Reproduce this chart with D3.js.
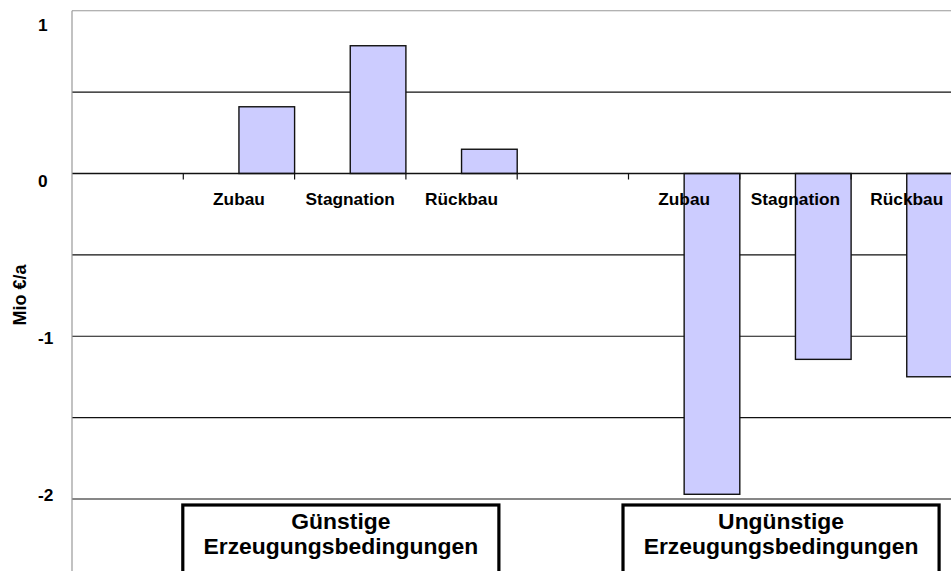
<!DOCTYPE html>
<html>
<head>
<meta charset="utf-8">
<script src="https://cdn.jsdelivr.net/npm/d3@7"></script>
<style>
  html, body { margin: 0; padding: 0; background: #fff; }
  svg { display: block; }
  text { font-family: "Liberation Sans", Arial, Helvetica, sans-serif; font-weight: bold; fill: #000; }
</style>
</head>
<body>
<svg id="chart" width="951" height="571"></svg>
<script>
// Scenario categories and the two generation-condition groups
const scenarios = ["Zubau", "Stagnation", "Rückbau"];
const groupLabels = [
  ["Günstige", "Erzeugungsbedingungen"],
  ["Ungünstige", "Erzeugungsbedingungen"]
];
// Annual result per scenario, Mio €/a
const favourable = [0.41, 0.785, 0.149];
const unfavourable = [-1.971, -1.142, -1.249];
const yTicks = [1, 0, -1, -2];
const gridValues = [0.5, -0.5, -1, -1.5, -2];
const yTitle = "Mio €/a";

const W = 951, H = 571;
const plotLeft = 72, plotTop = 10.75, plotMinY = 499, plotRightEnd = 962.4;

const svg = d3.select("#chart");
svg.append("rect").attr("width", W).attr("height", H).attr("fill", "#fff");

// Each group: one empty slot followed by the three scenarios
const series = [favourable, unfavourable];
const slots = [];
series.forEach((vals, gi) => {
  slots.push({ key: gi + "-gap", group: gi, label: "", value: null });
  scenarios.forEach((s, si) => slots.push({ key: gi + "-" + s, group: gi, label: s, value: vals[si] }));
});

const x = d3.scaleBand().domain(slots.map(d => d.key)).range([plotLeft, plotRightEnd]).padding(0);
const xInner = d3.scaleBand().domain(["spacer", "value"]).range([0, x.bandwidth()]).padding(0);
const y = d3.scaleLinear().domain([1, -2]).range([plotTop, plotMinY]);
const yLabel = d3.scaleLinear().domain([1, -2]).range([24.5, 495]);

// Gridlines
svg.append("g").selectAll("line").data(gridValues).join("line")
  .attr("x1", plotLeft).attr("x2", W)
  .attr("y1", d => y(d)).attr("y2", d => y(d))
  .attr("stroke", "#111").attr("stroke-width", 1.1);

// Top frame line
svg.append("line").attr("x1", plotLeft).attr("x2", W)
  .attr("y1", y(1)).attr("y2", y(1))
  .attr("stroke", "#999").attr("stroke-width", 1.2);

// Bars
const barSlots = slots.filter(d => d.value !== null);
svg.append("g").selectAll("rect").data(barSlots).join("rect")
  .attr("x", d => x(d.key) + xInner("value"))
  .attr("width", xInner.bandwidth())
  .attr("y", d => y(Math.max(0, d.value)))
  .attr("height", d => Math.abs(y(d.value) - y(0)))
  .attr("fill", "#ccccff")
  .attr("stroke", "#111").attr("stroke-width", 1.4);

// Zero axis with tick marks at the slot boundaries
svg.append("line").attr("x1", plotLeft).attr("x2", W)
  .attr("y1", y(0)).attr("y2", y(0))
  .attr("stroke", "#111").attr("stroke-width", 1.3);
svg.append("g").selectAll("line").data(slots.slice(1)).join("line")
  .attr("x1", d => x(d.key)).attr("x2", d => x(d.key))
  .attr("y1", y(0)).attr("y2", y(0) + 6)
  .attr("stroke", "#111").attr("stroke-width", 1.2);

// Left axis line
svg.append("line").attr("x1", plotLeft).attr("x2", plotLeft)
  .attr("y1", y(1)).attr("y2", H)
  .attr("stroke", "#999").attr("stroke-width", 1.2);

// Scenario labels
svg.append("g").selectAll("text").data(barSlots).join("text")
  .attr("x", d => x(d.key) + x.bandwidth() / 2)
  .attr("y", y(0) + 31.5)
  .attr("text-anchor", "middle")
  .attr("font-size", 17.3)
  .text(d => d.label);

// Y tick labels
svg.append("g").selectAll("text").data(yTicks).join("text")
  .attr("x", 38)
  .attr("y", d => yLabel(d))
  .attr("dy", "0.35em")
  .attr("font-size", 17.3)
  .text(d => d);

// Y axis title
svg.append("text")
  .attr("transform", "translate(26,295) rotate(-90)")
  .attr("text-anchor", "middle")
  .attr("font-size", 18)
  .text(yTitle);

// Group caption boxes under the plot
const bw = x.bandwidth();
const boxes = groupLabels.map((lines, gi) => {
  const first = x(gi + "-" + scenarios[0]);
  return { lines, x0: first - 0.5 - gi * 5, w: bw * 2.84 };
});
const boxG = svg.append("g").selectAll("g").data(boxes).join("g");
boxG.append("rect")
  .attr("x", d => d.x0).attr("y", 505)
  .attr("width", d => d.w).attr("height", 90)
  .attr("fill", "#fff").attr("stroke", "#000").attr("stroke-width", 3.2);
boxG.each(function(d) {
  const g = d3.select(this);
  d.lines.forEach((t, i) => {
    g.append("text")
      .attr("transform", `translate(${d.x0 + d.w / 2},${529 + i * 25}) scale(1.07,1)`)
      .attr("text-anchor", "middle")
      .attr("font-size", 21.4)
      .text(t);
  });
});
</script>
</body>
</html>
